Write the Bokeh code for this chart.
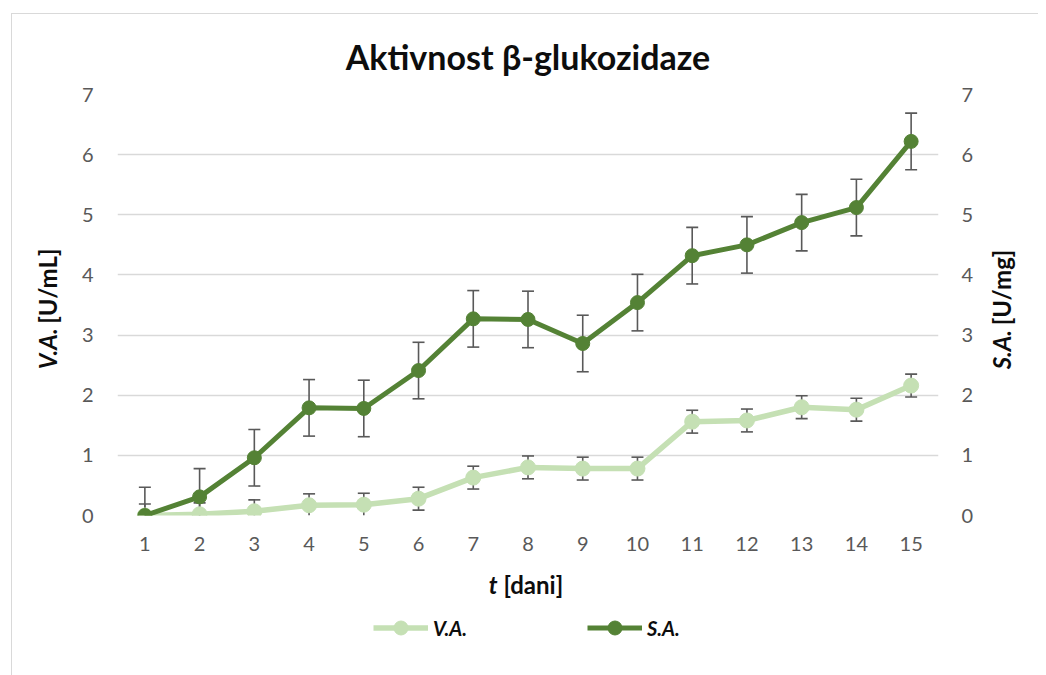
from bokeh.plotting import figure
from bokeh.layouts import column, row
from bokeh.models import (LinearAxis, FixedTicker, Legend, LegendItem, Whisker,
                          ColumnDataSource, TeeHead, Range1d, Label)
from bokeh.embed import file_html
from bokeh.resources import INLINE

days = list(range(1, 16))
va = [0.00, 0.02, 0.07, 0.17, 0.18, 0.28, 0.63, 0.80, 0.78, 0.78, 1.56, 1.58, 1.80, 1.76, 2.16]
sa = [0.00, 0.31, 0.96, 1.79, 1.78, 2.41, 3.27, 3.26, 2.86, 3.54, 4.32, 4.50, 4.87, 5.12, 6.22]
va_err = [0.19] * 15
sa_err = [0.47] * 15
y_ticks = [0, 1, 2, 3, 4, 5, 6, 7]
series_names = ["V.A.", "S.A."]

VA_COLOR = "#C5E0B4"
SA_COLOR = "#548235"
ERR_COLOR = "#595959"
TXT = "#0D0D0D"
FONT = "Lato"
BORDER = "1px solid #D9D9D9"

# ---------------- main chart ----------------
p = figure(frame_width=821, frame_height=421,
           min_border_left=45, min_border_right=40,
           min_border_top=80, min_border_bottom=48,
           x_range=Range1d(0.5, 15.5), y_range=Range1d(0, 7),
           output_backend="svg", toolbar_location=None,
           background_fill_color="white", border_fill_color="white",
           title="Aktivnost β-glukozidaze")
p.outline_line_color = None
p.xgrid.grid_line_color = None
p.ygrid.grid_line_color = "#D9D9D9"
p.ygrid.grid_line_width = 1.3
p.ygrid.ticker = FixedTicker(ticks=y_ticks)

p.title.text_font = FONT
p.title.text_font_size = "34px"
p.title.text_font_style = "bold"
p.title.text_color = TXT
p.title.align = "center"
p.title.standoff = 35

right_axis = LinearAxis()
p.add_layout(right_axis, "right")

def style_axis(ax, standoff):
    ax.axis_line_color = None
    ax.major_tick_line_color = None
    ax.minor_tick_line_color = None
    ax.major_tick_out = 0
    ax.major_tick_in = 0
    ax.major_label_text_font = FONT
    ax.major_label_text_font_size = "20px"
    ax.major_label_text_color = "#595959"
    ax.major_label_standoff = standoff

p.xaxis.ticker = FixedTicker(ticks=days)
style_axis(p.xaxis[0], 21)
p.yaxis[0].ticker = FixedTicker(ticks=y_ticks)
style_axis(p.yaxis[0], 24)
right_axis.ticker = FixedTicker(ticks=y_ticks)
style_axis(right_axis, 23)

def add_errors(vals, errs):
    full = dict(base=[], lower=[], upper=[])
    clip = dict(base=[], lower=[], upper=[])
    for d, v, e in zip(days, vals, errs):
        lo = v - e
        if lo >= 0:
            full["base"].append(d); full["lower"].append(lo); full["upper"].append(v + e)
        else:
            clip["base"].append(d); clip["lower"].append(0); clip["upper"].append(v + e)
    for data, low_head in ((full, True), (clip, False)):
        p.add_layout(Whisker(
            source=ColumnDataSource(data), base="base", lower="lower", upper="upper",
            line_color=ERR_COLOR, line_width=1.6, level="underlay",
            upper_head=TeeHead(size=12, line_color=ERR_COLOR, line_width=1.6),
            lower_head=TeeHead(size=12, line_color=ERR_COLOR, line_width=1.6) if low_head else None))

add_errors(va, va_err)
add_errors(sa, sa_err)

src = ColumnDataSource(dict(day=days, va=va, sa=sa))
p.line("day", "va", source=src, line_color=VA_COLOR, line_width=5.5)
p.scatter("day", "va", source=src, size=15, fill_color=VA_COLOR, line_color=VA_COLOR)
p.line("day", "sa", source=src, line_color=SA_COLOR, line_width=5)
p.scatter("day", "sa", source=src, size=14, fill_color=SA_COLOR, line_color=SA_COLOR)

# ---------------- text strips (pixel coordinates) ----------------
def strip(w, h):
    f = figure(width=w, height=h, min_border=0,
               x_range=Range1d(0, w), y_range=Range1d(0, h),
               x_axis_location=None, y_axis_location=None,
               output_backend="svg", toolbar_location=None,
               background_fill_color="white", border_fill_color="white")
    f.outline_line_color = None
    f.grid.grid_line_color = None
    return f

def lab(f, x, y, text, style, align, angle=0.0):
    f.add_layout(Label(x=x, y=y, text=text, text_font=FONT, text_font_style=style,
                       text_font_size="24px", text_color=TXT, angle=angle,
                       text_align=align, text_baseline="middle"))

H_MAIN = 80 + 421 + 48
lfig = strip(60, H_MAIN)
lab(lfig, 35, 244, "V.A.", "bold italic", "right", 1.5708)
lab(lfig, 35, 250, "[U/mL]", "bold", "left", 1.5708)

rfig = strip(60, H_MAIN)
lab(rfig, 23, 242, "S.A.", "bold italic", "right", 1.5708)
lab(rfig, 23, 248, "[U/mg]", "bold", "left", 1.5708)

bfig = strip(1026, 112)
lab(bfig, 485, 91, "t", "bold italic", "right")
lab(bfig, 491, 91, "[dani]", "bold", "left")

# legend glyphs: real series drawn on a hidden range so only the legend shows them
bfig.extra_y_ranges = {"hidden": Range1d(1000, 2000)}
items = []
for name, col, lw, sz, key in zip(series_names, [VA_COLOR, SA_COLOR], [5.5, 5], [15, 14], ["va", "sa"]):
    r1 = bfig.line("day", key, source=src, line_color=col, line_width=lw, y_range_name="hidden")
    r2 = bfig.scatter("day", key, source=src, size=sz, fill_color=col, line_color=col,
                      y_range_name="hidden")
    items.append(LegendItem(label=name, renderers=[r1, r2]))

legend = Legend(items=items, orientation="horizontal", location=(361, 30),
                glyph_width=55, glyph_height=35, label_standoff=5, spacing=114,
                label_width=40, padding=0, margin=0, border_line_color=None,
                background_fill_alpha=0,
                label_text_font=FONT, label_text_font_style="bold italic",
                label_text_font_size="20px", label_text_color=TXT)
bfig.add_layout(legend)

layout = column(row(lfig, p, rfig, spacing=0), bfig, spacing=0)
layout.margin = (13, 0, 0, 11)
layout.styles = {"border-top": BORDER, "border-left": BORDER}
open("out.html", "w").write(file_html(layout, INLINE))
